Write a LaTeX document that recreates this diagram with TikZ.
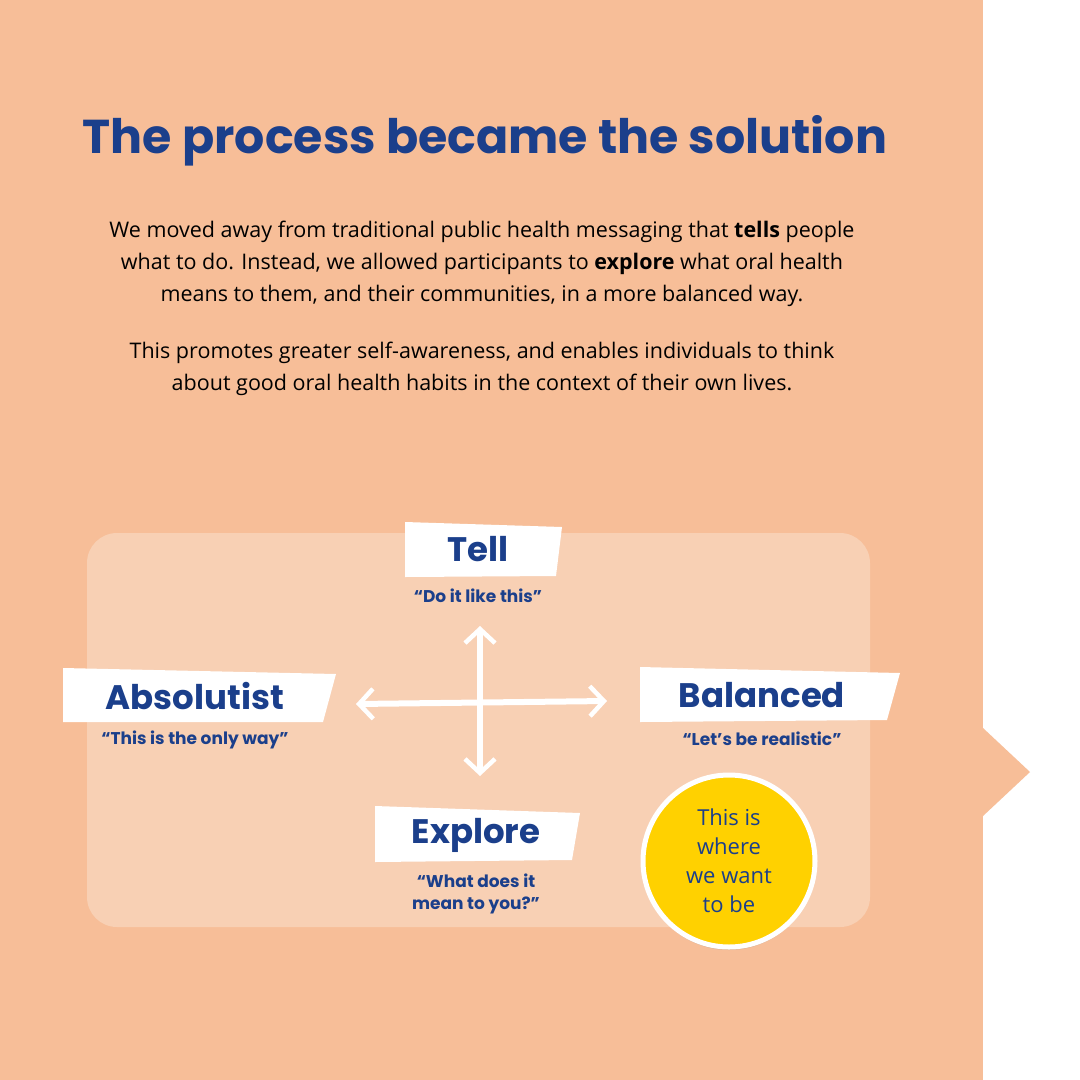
\documentclass[tikz,border=0pt]{standalone}
\usepackage{fontspec}
\setmainfont{Open Sans}
\newfontfamily\hd{Poppins}[BoldFont={* Bold}]
\usetikzlibrary{arrows.meta,shadows}
\definecolor{peach}{HTML}{F7BE98}
\definecolor{lpeach}{HTML}{F8D0B4}
\definecolor{navy}{HTML}{1B3F8B}
\definecolor{yel}{HTML}{FFD100}
\tikzset{
  banner/.style={fill=white,draw=none},
  lab/.style={font=\hd\bfseries\fontsize{34}{36}\selectfont,text=navy},
  quote/.style={font=\hd\bfseries\fontsize{17}{22}\selectfont,text=navy,align=center},
  axis/.style={white,line width=6pt,line cap=round,{Straight Barb[length=14pt,width=30pt,line width=4.5pt]}-{Straight Barb[length=14pt,width=30pt,line width=4.5pt]}}
}
\begin{document}
\begin{tikzpicture}[x=1pt,y=-1pt]
\useasboundingbox (0,0) rectangle (1080,1080);
\fill[white] (0,0) rectangle (1080,1080);
\fill[peach] (0,0) rectangle (983,1080);
\fill[peach] (983,728) -- (1030,772) -- (983,816) -- cycle;
\fill[lpeach,rounded corners=30pt] (87,533) rectangle (870,927);
\node[font=\hd\bfseries\fontsize{47.5}{56}\selectfont,text=navy] (title) at (485,141) {The process became the solution};
\node[align=center,font=\fontsize{21.5}{32}\selectfont] (p1) at (482,264) {We moved away from traditional public health messaging that \textbf{tells} people\\what to do. Instead, we allowed participants to \textbf{explore} what oral health\\means to them, and their communities, in a more balanced way.};
\node[align=center,font=\fontsize{21.5}{32}\selectfont] (p2) at (482,369) {This promotes greater self-awareness, and enables individuals to think\\about good oral health habits in the context of their own lives.};
% banners
\fill[banner] (405,522) -- (562,527) -- (556,576) -- (405,577) -- cycle;
\node[lab] (tell) at (478,549) {Tell};
\node[quote] (tellq) at (478,596) {“Do it like this”};
\fill[banner] (63,668) -- (336,674) -- (323,722) -- (63,722) -- cycle;
\node[lab] (abs) at (195,696) {Absolutist};
\node[quote] (absq) at (195,740) {“This is the only way”};
\fill[banner] (640,667) -- (900,673) -- (887,720) -- (640,722) -- cycle;
\node[lab] (bal) at (762,695) {Balanced};
\node[quote] (balq) at (762,739) {“Let’s be realistic”};
\fill[banner] (375,806) -- (580,813) -- (572,860) -- (375,862) -- cycle;
\node[lab] (exp) at (476,835) {Explore};
\node[quote] (expq) at (476,894) {“What does it\\mean to you?”};
% arrows
\coordinate (top) at (480,626);
\coordinate (bot) at (480,776);
\coordinate (lft) at (356,704);
\coordinate (rgt) at (607,701);
\draw[axis] (top) -- (bot);
\draw[axis] (lft) -- (rgt);
% circle
\node[circle,minimum size=172pt,fill=yel,draw=white,line width=5pt,drop shadow={shadow xshift=0pt,shadow yshift=-3pt,opacity=0.25},align=center,text=navy,font=\fontsize{22}{29}\selectfont] (goal) at (729,861) {This is\\where\\we want\\to be};
\end{tikzpicture}
\end{document}
